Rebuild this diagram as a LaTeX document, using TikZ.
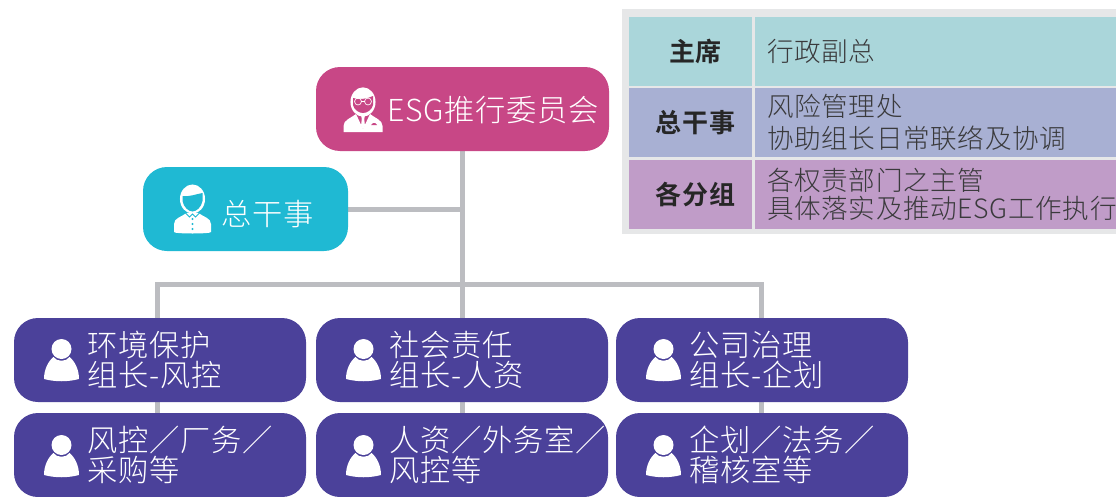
\documentclass[tikz,border=0pt]{standalone}
\usepackage{fontspec}
\setmainfont{Noto Sans CJK SC}[UprightFont=* Light,BoldFont=* Bold,LetterSpace=2.5]
\usetikzlibrary{backgrounds}
\definecolor{chairpink}{HTML}{C84786}
\definecolor{staffteal}{HTML}{1FB9D3}
\definecolor{groupblue}{HTML}{4B419A}
\definecolor{linkgray}{HTML}{BCBDC1}
\definecolor{panelgray}{HTML}{E6E7E8}
\definecolor{rowteal}{HTML}{AAD6DA}
\definecolor{rowblue}{HTML}{A8B0D3}
\definecolor{rowpurple}{HTML}{C09CC8}
\definecolor{inktext}{HTML}{3A3A3C}
\tikzset{
  box/.style={inner sep=0pt,rounded corners=18pt,text=white,font=\fontsize{22.7}{22.5}\selectfont},
  groupbox/.style={box,fill=groupblue,minimum width=219pt,minimum height=63pt,text width=219pt,
    execute at begin node={\leftskip=55.2pt\rightskip=0pt plus 1fil\parindent=0pt}},
  linkline/.style={draw=linkgray,line width=3.75pt},
  headcell/.style={inner sep=0pt,minimum width=92.25pt,minimum height=51.75pt,align=center,text=black!85,
    font=\fontsize{19.5}{19.5}\selectfont\bfseries},
  infocell/.style={inner sep=0pt,minimum width=270.75pt,minimum height=51.75pt,text width=270.75pt,text=inktext,
    font=\fontsize{19.95}{20}\selectfont,
    execute at begin node={\leftskip=9pt\rightskip=0pt plus 1fil\parindent=0pt}},
  personicon/.pic={
    \fill[white] (-17.5,30) .. controls (-17.5,20) and (-13,12) .. (-8,8)
      .. controls (-5,13) and (5,13) .. (8,8)
      .. controls (13,12) and (17.5,20) .. (17.5,30)
      .. controls (6,33) and (-6,33) .. cycle;
    \fill[white] (0,0) circle (7.5pt);
  },
  staffpic/.pic={
    \fill[white] (0,0) ellipse (9.4pt and 10.9pt);
    \fill[staffteal] (-10,-3) .. controls (-3,-2) and (4,-5) .. (10,-6)
      -- (10,2) .. controls (9,8) and (4,12.5) .. (0,12.5)
      .. controls (-4,12.5) and (-9,8) .. (-10,2) -- cycle;
    \fill[white] (-18.5,33) -- (-18.5,25) .. controls (-18.5,19) and (-11,18) .. (-6,14)
      -- (6,14) .. controls (11,18) and (18.5,19) .. (18.5,25) -- (18.5,33)
      .. controls (18.5,35) and (-18.5,35) .. cycle;
    \draw[staffteal,line width=.6pt] (-7,14) -- (-3,18) -- (0,15) -- (3,18) -- (7,14);
    \foreach \doty in {20,25,30}
      \fill[staffteal] (0,\doty) circle (.9pt);
  },
  chairpic/.pic={
    \fill[white] (0,0) ellipse (9.4pt and 11pt);
    \fill[chairpink] (-10,-4) .. controls (-4,-2) and (4,-3) .. (10,-6)
      -- (10,3) .. controls (9,8) and (4,11) .. (0,11)
      .. controls (-4,11) and (-9,8) .. (-10,3) -- cycle;
    \draw[white,line width=.5pt] (-5,-.5) circle (2.6pt) (5,-.5) circle (2.6pt) (-1.5,-.5) -- (1.5,-.5);
    \fill[white] (-19.5,30) -- (-19.5,24) .. controls (-19.5,18) and (-12,16) .. (-7,12)
      -- (0,27) -- (7,12) .. controls (12,16) and (19.5,18) .. (19.5,24) -- (19.5,30) -- cycle;
    \fill[white] (-2,13) -- (2,13) -- (1.2,17) -- (2,24) -- (0,27) -- (-2,24) -- (-1.2,17) -- cycle;
    \fill[chairpink] (8,23) -- (14,23) -- (12,21) -- (10,21) -- cycle;
  }
}
\begin{document}
\begin{tikzpicture}[x=.75pt,y=-.75pt]
\useasboundingbox (0,0) rectangle (1116,496);

% top of the chart
\node[box,fill=chairpink,minimum width=219.75pt,minimum height=63pt,text height=18.8pt,text depth=0pt] (esgchair) at (462.5,109) {\hspace*{46pt}ESG推行委员会};
\node[box,fill=staffteal,minimum width=153.75pt,minimum height=63pt,text height=24pt,text depth=0pt] (secretary) at (245.5,209) {\hspace*{33.5pt}总干事};
\pic at (363,102) {chairpic};
\pic at (192.5,199) {staffpic};

% working groups
\node[groupbox] (envlead) at (160,360) {环境保护\\组长-风控};
\node[groupbox] (soclead) at (462,360) {社会责任\\组长-人资};
\node[groupbox] (govlead) at (762,360) {公司治理\\组长-企划};
\node[groupbox] (envteam) at (160,455) {风控／厂务／\\采购等};
\node[groupbox] (socteam) at (462,455) {人资／外务室／\\风控等};
\node[groupbox] (govteam) at (762,455) {企划／法务／\\稽核室等};
\foreach \iconx in {61.5,363.5,663.5}
  \foreach \icony in {349,445}
    \pic at (\iconx,\icony) {personicon};

% links go behind the boxes
\coordinate (envjoint) at (157.5,284.5);
\coordinate (govjoint) at (761,284.5);
\begin{scope}[on background layer]
  \draw[linkline] (esgchair.south) -- (socteam.north -| esgchair.south);
  \draw[linkline] (secretary.east) -- (secretary.east -| esgchair.south);
  \draw[linkline] (envteam.north -| envjoint) -- (envjoint) -- (govjoint) -- (govteam.north -| govjoint);
\end{scope}

% legend panel
\fill[panelgray] (622,9) rectangle (1116,234);
\node[headcell,fill=rowteal] (chairhead) at (690.5,51.5) {\hspace*{7.5pt}主席};
\node[headcell,fill=rowblue] (sechead) at (690.5,122.5) {\hspace*{7.5pt}总干事};
\node[headcell,fill=rowpurple] (grouphead) at (690.5,194.5) {\hspace*{7.5pt}各分组};
\node[infocell,fill=rowteal] (chairinfo) at (935.5,51.5) {行政副总};
\node[infocell,fill=rowblue] (secinfo) at (935.5,122.5) {风险管理处\\[4pt]协助组长日常联络及协调};
\node[infocell,fill=rowpurple] (groupinfo) at (935.5,194.5) {各权责部门之主管\\[.75pt]具体落实及推动ESG工作执行};
\end{tikzpicture}
\end{document}
